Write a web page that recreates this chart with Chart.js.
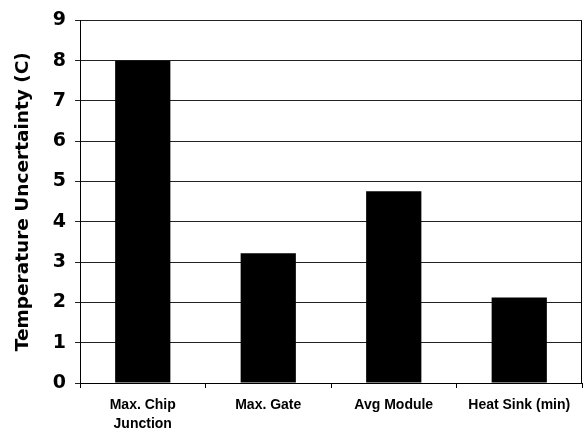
<!DOCTYPE html>
<html>
<head>
<meta charset="utf-8">
<script src="https://cdn.jsdelivr.net/npm/chart.js@4"></script>
<style>
  html,body{margin:0;padding:0;background:#fff;}
  #wrap{width:584px;height:433px;}
</style>
</head>
<body>
<div id="wrap"><canvas id="chart" width="584" height="433"></canvas></div>
<script>
// data
const categories = [['Max. Chip', 'Junction'], 'Max. Gate', 'Avg Module', 'Heat Sink (min)'];
const uncertainty = [8, 3.22, 4.76, 2.12];
const yMin = 0, yMax = 9, yStep = 1;
const yTitle = 'Temperature Uncertainty (C)';

// right edge of the plot frame
const frameRight = {
  id: 'frameRight',
  afterDraw(chart){
    const a = chart.chartArea, c = chart.ctx;
    c.save();
    c.strokeStyle = '#000';
    c.lineWidth = 1;
    c.beginPath();
    c.moveTo(Math.round(a.right) - 0.5, a.top);
    c.lineTo(Math.round(a.right) - 0.5, a.bottom);
    c.stroke();
    c.restore();
  }
};

const ctx = document.getElementById('chart').getContext('2d');
new Chart(ctx, {
  type: 'bar',
  data: {
    labels: categories,
    datasets: [{
      data: uncertainty,
      backgroundColor: '#000',
      borderWidth: 0,
      barPercentage: 0.44,
      categoryPercentage: 1
    }]
  },
  options: {
    responsive: false,
    animation: false,
    layout: {padding: {left: 0, top: 18, right: 2, bottom: 0}},
    plugins: {legend: {display: false}, tooltip: {enabled: false}},
    scales: {
      x: {
        afterFit(s){ s.height = 50; },
        grid: {display: true, drawOnChartArea: false, offset: true, color: '#000', tickLength: 5},
        border: {display: true, color: '#000', width: 1},
        ticks: {color: '#000', padding: 7, maxRotation: 0, autoSkip: false,
          font: {family: 'Liberation Sans, Arial', size: 14, weight: 'bold', lineHeight: 1.4}}
      },
      y: {
        min: yMin, max: yMax,
        afterFit(s){ s.width = 80; },
        grid: {color: '#222', tickLength: 5},
        border: {display: true, color: '#000', width: 1},
        ticks: {stepSize: yStep, color: '#000', padding: 9,
          font: {family: 'DejaVu Sans', size: 19, weight: 'bold'}},
        title: {display: true, text: yTitle, color: '#000', padding: {top: 12, bottom: 0},
          font: {family: 'DejaVu Sans', size: 18.5, weight: 'bold'}}
      }
    }
  },
  plugins: [frameRight]
});
</script>
</body>
</html>
